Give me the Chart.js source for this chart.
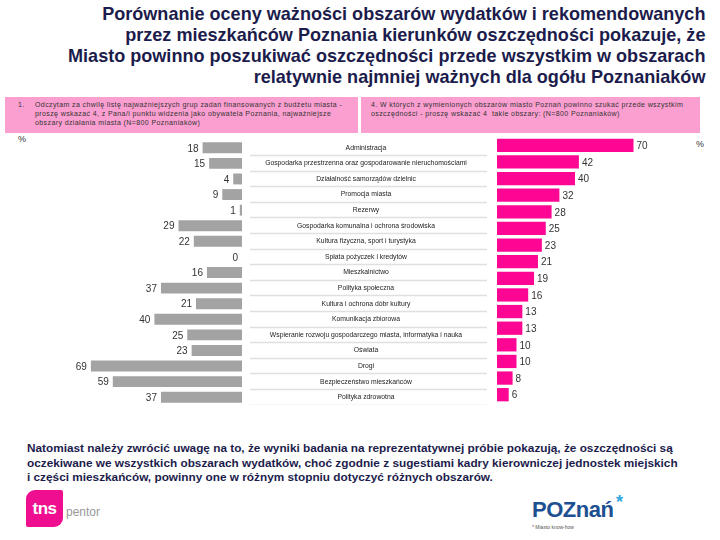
<!DOCTYPE html>
<html>
<head>
<meta charset="utf-8">
<script src="https://cdn.jsdelivr.net/npm/chart.js@4.4.1/dist/chart.umd.min.js"></script>
<style>
body { margin: 0; width: 720px; height: 540px; background: #fff; position: relative; overflow: hidden; font-family: "Liberation Sans", Arial, sans-serif; }
#title { position: absolute; right: 15px; top: 3px; text-align: right; color: #1c1c4c; transform-origin: right top;
  font: bold 19px/21px "Liberation Sans", Arial, sans-serif; white-space: nowrap; }
.box { position: absolute; top: 97px; height: 36px; background: #fb9fd0; color: #333; font-size: 7px; line-height: 9px; letter-spacing: 0.4px; box-sizing: border-box; }
#boxL { left: 5px; width: 353px; padding: 3px 8px 0 30px; }
#boxL b { position: absolute; left: 13px; top: 3px; font-weight: normal; }
#boxR { left: 361px; width: 339px; padding: 3px 8px 0 10px; }
.pct { position: absolute; font-size: 9px; color: #333; }
#left { position: absolute; left: 0; top: 140px; width: 490px; height: 265px; }
#right { position: absolute; left: 490px; top: 137px; width: 230px; height: 266px; }
#note { position: absolute; left: 27px; top: 441px; color: #1c1c4c; font: bold 11.8px/14.5px "Liberation Sans", Arial, sans-serif; white-space: nowrap; }
#tns { position: absolute; left: 26px; top: 490px; width: 37px; height: 37px; background: #ee0e8f; border-radius: 9px 2px 9px 2px; color: #fff; font: bold 17px/37px "Liberation Sans", Arial, sans-serif; text-align: center; letter-spacing: -0.5px; }
#pentor { position: absolute; left: 66px; top: 505px; color: #999; font: 12px "Liberation Sans", Arial, sans-serif; }
#poz { position: absolute; left: 532px; top: 498px; color: #1d4f91; font: bold 22px/24px "Liberation Sans", Arial, sans-serif; letter-spacing: -0.5px; }
#star { position: absolute; left: 616px; top: 492px; color: #33a7e0; font: bold 18px "Liberation Sans", Arial, sans-serif; }
#tag { position: absolute; left: 532px; top: 524px; color: #555; font-size: 5px; }
</style>
</head>
<body>
<div id="title">Porównanie oceny ważności obszarów wydatków i rekomendowanych<br>przez mieszkańców Poznania kierunków oszczędności pokazuje, że<br>Miasto powinno poszukiwać oszczędności przede wszystkim w obszarach<br>relatywnie najmniej ważnych dla ogółu Poznaniaków</div>

<div class="box" id="boxL"><b>1.</b>Odczytam za chwilę listę najważniejszych grup zadań finansowanych z budżetu miasta - proszę wskazać 4, z Pana/i punktu widzenia jako obywatela Poznania, najważniejsze obszary działania miasta (N=800 Poznaniaków)</div>
<div class="box" id="boxR">4. W których z wymienionych obszarów miasto Poznań powinno szukać przede wszystkim oszczędności - proszę wskazać 4&nbsp; takie obszary: (N=800 Poznaniaków)</div>

<div class="pct" style="left:18px;top:134px">%</div>
<div class="pct" style="left:696px;top:139px">%</div>

<div id="left"><canvas id="chartL"></canvas></div>
<div id="right"><canvas id="chartR"></canvas></div>

<div id="note">Natomiast należy zwrócić uwagę na to, że wyniki badania na reprezentatywnej próbie pokazują, że oszczędności są<br>oczekiwane we wszystkich obszarach wydatków, choć zgodnie z sugestiami kadry kierowniczej jednostek miejskich<br>i części mieszkańców, powinny one w różnym stopniu dotyczyć różnych obszarów.</div>

<div id="tns">tns</div>
<div id="pentor">pentor</div>
<div id="poz">POZnań</div>
<div id="star">*</div>
<div id="tag">* Miasto know-how</div>

<script>
// kategorie (kolejność wg lewej kolumny)
const categories = [
  'Administracja',
  'Gospodarka przestrzenna oraz gospodarowanie nieruchomościami',
  'Działalność samorządów dzielnic',
  'Promocja miasta',
  'Rezerwy',
  'Gospodarka komunalna i ochrona środowiska',
  'Kultura fizyczna, sport i turystyka',
  'Spłata pożyczek i kredytów',
  'Mieszkalnictwo',
  'Polityka społeczna',
  'Kultura i ochrona dóbr kultury',
  'Komunikacja zbiorowa',
  'Wspieranie rozwoju gospodarczego miasta, informatyka i nauka',
  'Oświata',
  'Drogi',
  'Bezpieczeństwo mieszkańców',
  'Polityka zdrowotna'
];
// najważniejsze obszary (%)
const importance = [18, 15, 4, 9, 1, 29, 22, 0, 16, 37, 21, 40, 25, 23, 69, 59, 37];
// gdzie szukać oszczędności (%)
const savings = [70, 42, 40, 32, 28, 25, 23, 21, 19, 16, 13, 13, 10, 10, 8, 6];
const savingsLabels = categories.slice(0, savings.length);

const labelFont = { family: '"Liberation Sans", Arial, sans-serif', size: 6.8 };

// tytuł - zwężenie jak w Arial Narrow
var title = document.getElementById('title');
title.style.transform = 'scaleX(' + (637 / title.offsetWidth) + ')';

// wartości przy końcach słupków
const valueLabels = {
  id: 'valueLabels',
  afterDatasetsDraw(chart, args, opts) {
    const ctx = chart.ctx;
    const meta = chart.getDatasetMeta(0);
    const data = chart.data.datasets[0].data;
    ctx.save();
    ctx.font = '10px "Liberation Sans", Arial, sans-serif';
    ctx.fillStyle = '#333';
    ctx.textBaseline = 'middle';
    ctx.textAlign = opts.side == 'left' ? 'right' : 'left';
    meta.data.forEach(function(bar, i) {
      var x = opts.side == 'left' ? Math.min(bar.x, bar.base) - 4 : bar.x + 3;
      ctx.fillText(data[i], x, bar.y + 1);
    });
    ctx.restore();
  }
};

// szerokość najdłuższej etykiety, żeby wyśrodkować podpisy nad kreskami
var m = document.createElement('canvas').getContext('2d');
m.font = 'normal ' + labelFont.size + 'px ' + labelFont.family;
var widest = 0;
categories.forEach(function(c) { widest = Math.max(widest, m.measureText(c).width); });
var tickLen = 245;

new Chart(document.getElementById('chartL'), {
  type: 'bar',
  data: {
    labels: categories,
    datasets: [{
      data: importance,
      backgroundColor: '#a3a3a3',
      categoryPercentage: 1,
      barPercentage: 0.7
    }]
  },
  options: {
    indexAxis: 'y',
    responsive: true,
    maintainAspectRatio: false,
    animation: false,
    layout: { padding: { left: 23, right: 0, top: 0, bottom: 0 } },
    scales: {
      x: { display: false, reverse: true, min: 0, max: 100 },
      y: {
        position: 'right',
        border: { display: false },
        grid: {
          offset: true,
          drawOnChartArea: false,
          drawTicks: true,
          tickLength: tickLen,
          tickBorderDash: [0, 8, 400],
          tickColor: function(c) { return c.index == 0 ? 'rgba(0,0,0,0)' : '#e0e0e0'; },
          tickWidth: 1.5
        },
        ticks: {
          autoSkip: false,
          crossAlign: 'center',
          padding: 366 - 242 - tickLen - widest / 2,
          color: '#222',
          font: labelFont
        },
        afterFit: function(scale) { scale.width = 248; }
      }
    },
    plugins: {
      legend: { display: false },
      tooltip: { enabled: false },
      valueLabels: { side: 'left' }
    }
  },
  plugins: [valueLabels]
});

new Chart(document.getElementById('chartR'), {
  type: 'bar',
  data: {
    labels: savingsLabels,
    datasets: [{
      data: savings,
      backgroundColor: '#fe0694',
      categoryPercentage: 1,
      barPercentage: 0.8
    }]
  },
  options: {
    indexAxis: 'y',
    responsive: true,
    maintainAspectRatio: false,
    animation: false,
    layout: { padding: { left: 7, right: 28, top: 0, bottom: 0 } },
    scales: {
      x: { display: false, min: 0, max: 100 },
      y: { display: false }
    },
    plugins: {
      legend: { display: false },
      tooltip: { enabled: false },
      valueLabels: { side: 'right' }
    }
  },
  plugins: [valueLabels]
});
</script>
</body>
</html>
